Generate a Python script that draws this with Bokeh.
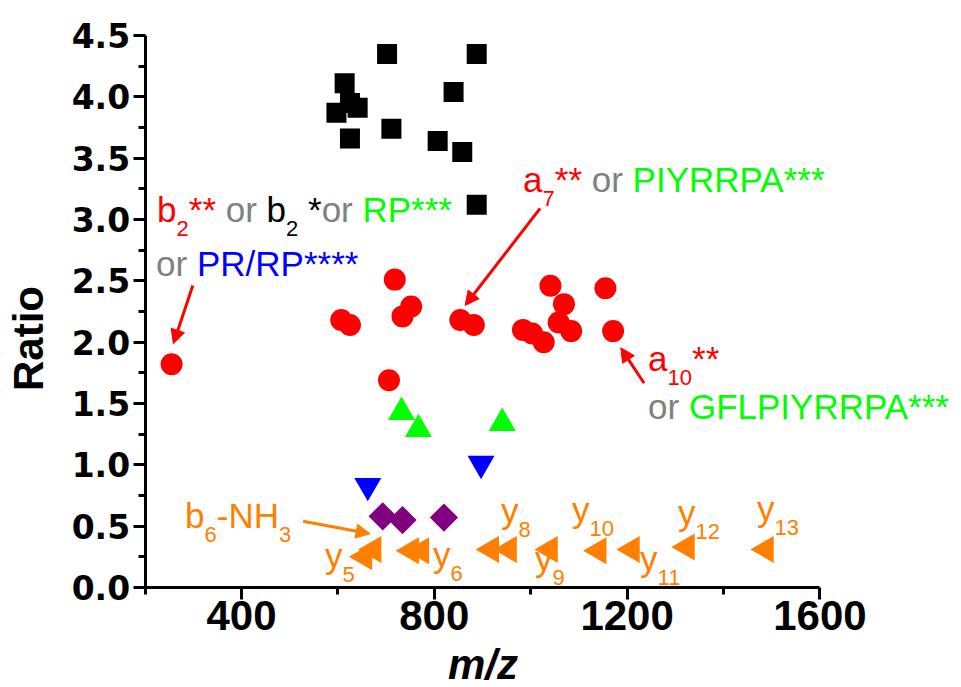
from bokeh.plotting import figure
from bokeh.models import Range1d, FixedTicker, Label, Arrow, NormalHead, PrintfTickFormatter
from bokeh.embed import file_html
from bokeh.resources import INLINE
import math

# ---------------- data (m/z, ratio) ----------------
sq_mz = [702, 888, 614, 840, 625, 641, 597, 711, 625, 807, 858, 888]
sq_ratio = [4.35, 4.35, 4.11, 4.04, 3.95, 3.91, 3.87, 3.74, 3.66, 3.64, 3.55, 3.12]

circ_mz = [255, 607, 625, 718, 752, 734, 706, 854, 882, 984, 1003, 1027, 1041, 1069, 1058, 1084, 1155, 1171]
circ_ratio = [1.82, 2.18, 2.14, 2.51, 2.29, 2.21, 1.69, 2.18, 2.14, 2.10, 2.07, 2.00, 2.46, 2.31, 2.16, 2.09, 2.44, 2.09]

up_mz = [732, 767, 941]
up_ratio = [1.43, 1.29, 1.34]

down_mz = [662, 897]
down_ratio = [0.83, 1.01]

dia_mz = [693, 734, 820]
dia_ratio = [0.58, 0.55, 0.57]

left_mz = [655, 674, 752, 773, 918, 955, 1040, 1141, 1210, 1324, 1488]
left_ratio = [0.25, 0.31, 0.30, 0.30, 0.31, 0.31, 0.31, 0.30, 0.31, 0.33, 0.31]

x_ticks = [400, 800, 1200, 1600]
x_minor = [200, 600, 1000, 1400]
y_ticks = [0.0, 0.5, 1.0, 1.5, 2.0, 2.5, 3.0, 3.5, 4.0, 4.5]
y_minor = [0.25, 0.75, 1.25, 1.75, 2.25, 2.75, 3.25, 3.75, 4.25]

# ---------------- layout ----------------
W, H = 961, 687
ORIGIN_X_PX, ORIGIN_Y_PX = 144.6, 587.0   # where (200, 0) sits on the page
PX_X = 0.482      # px per m/z unit
PX_Y = 122.67     # px per ratio unit
X_START = 200 - ORIGIN_X_PX / PX_X
X_END = X_START + W / PX_X
Y_START = -(H - ORIGIN_Y_PX) / PX_Y
Y_END = ORIGIN_Y_PX / PX_Y

RED, GRAY, GREEN, BLUE, BLACK = "#FF0000", "#808080", "#00FF00", "#0000FF", "#000000"
ORANGE, PURPLE = "#FF8000", "#800080"
FONT = "Liberation Sans"
MAIN_FS, SUB_FS = 35, 22
SUB_DROP_PX = 15
BASELINE_FIX = 0.35   # label placement correction, in font-size units

p = figure(width=W, height=H, output_backend="svg", toolbar_location=None,
           x_range=Range1d(X_START, X_END), y_range=Range1d(Y_START, Y_END),
           min_border=0, min_border_left=0, min_border_right=0,
           min_border_top=0, min_border_bottom=0)
p.grid.visible = False
p.outline_line_color = None
p.background_fill_color = "white"
p.border_fill_color = "white"

for ax in (p.xaxis, p.yaxis):
    ax.axis_line_width = 3
    ax.major_tick_line_width = 3
    ax.minor_tick_line_width = 3
    ax.major_tick_out = 12
    ax.major_tick_in = 0
    ax.minor_tick_out = 7
    ax.minor_tick_in = 0
    ax.major_label_text_font_style = "bold"
    ax.major_label_text_color = "black"

p.xaxis.fixed_location = 0
p.xaxis.bounds = (200, 1600)
p.xaxis.ticker = FixedTicker(ticks=x_ticks, minor_ticks=x_minor)
p.xaxis.major_label_text_font = FONT
p.xaxis.major_label_text_font_size = "42px"
p.xaxis.major_label_standoff = 1

p.yaxis.fixed_location = 200
p.yaxis.bounds = (0, 4.5)
p.yaxis.ticker = FixedTicker(ticks=y_ticks, minor_ticks=y_minor)
p.yaxis.formatter = PrintfTickFormatter(format="%.1f")
p.yaxis.major_label_text_font = "DejaVu Sans"
p.yaxis.major_label_text_font_size = "33px"
p.yaxis.major_label_standoff = 3

# ---------------- markers ----------------
p.scatter(left_mz, left_ratio, marker="triangle", angle=math.pi / 2, size=27,
          fill_color=ORANGE, line_color=None)
p.scatter(dia_mz, dia_ratio, marker="square", angle=math.pi / 4, size=20,
          fill_color=PURPLE, line_color=None)
p.scatter(down_mz, down_ratio, marker="inverted_triangle", size=27,
          fill_color=BLUE, line_color=None)
p.scatter(up_mz, up_ratio, marker="triangle", size=27,
          fill_color=GREEN, line_color=None)
p.scatter(circ_mz, circ_ratio, marker="circle", size=22,
          fill_color=RED, line_color=None)
p.scatter(sq_mz, sq_ratio, marker="square", size=20,
          fill_color=BLACK, line_color=None)

# ---------------- annotation text runs ----------------
ARIAL_W = {" ": 278, "*": 389, "-": 333, "/": 278, "A": 667, "F": 611, "G": 778,
           "H": 722, "I": 278, "L": 556, "N": 722, "P": 667, "R": 722, "Y": 667,
           "a": 556, "b": 556, "o": 556, "r": 333, "y": 500}


def text_width_px(s, fs):
    return sum(ARIAL_W.get(ch, 556) for ch in s) * fs / 1000.0


def runs(x, y, parts):
    """parts: list of (text, color, is_sub); x, y = start / baseline in data units."""
    cx = x
    for txt, col, sub in parts:
        fs = SUB_FS if sub else MAIN_FS
        lead = txt[:len(txt) - len(txt.lstrip(" "))]
        core = txt.strip(" ")
        trail = txt[len(lead) + len(core):]
        cx += text_width_px(lead, fs) / PX_X
        if core:
            dy_px = (SUB_DROP_PX if sub else 0) - BASELINE_FIX * fs
            p.add_layout(Label(x=cx, y=y - dy_px / PX_Y, text=core,
                               text_font=FONT, text_font_size=f"{fs}px", text_color=col,
                               text_align="left", text_baseline="alphabetic"))
        cx += text_width_px(core + trail, fs) / PX_X


runs(224.9, 2.984, [("b", RED, False), ("2", RED, True), ("**", RED, False),
                    (" or ", GRAY, False), ("b", BLACK, False), ("2", BLACK, True),
                    (" *", BLACK, False), ("or ", GRAY, False), ("RP***", GREEN, False)])
runs(222.8, 2.543, [("or ", GRAY, False), ("PR/RP****", BLUE, False)])
runs(984.2, 3.228, [("a", RED, False), ("7", RED, True), ("**", RED, False),
                    (" or ", GRAY, False), ("PIYRRPA***", GREEN, False)])
runs(1243.6, 1.769, [("a", RED, False), ("10", RED, True), ("**", RED, False)])
runs(1243.6, 1.378, [("or ", GRAY, False), ("GFLPIYRRPA***", GREEN, False)])
runs(283.0, 0.489, [("b", ORANGE, False), ("6", ORANGE, True), ("-NH", ORANGE, False),
                    ("3", ORANGE, True)])

y_labels = [("5", 573.4, 0.163), ("6", 797.5, 0.171), ("8", 938.6, 0.530),
            ("9", 1009.1, 0.139), ("10", 1085.9, 0.538), ("11", 1227.0, 0.139),
            ("12", 1305.8, 0.514), ("13", 1469.7, 0.546)]
for n, lx, ly in y_labels:
    runs(lx, ly, [("y", ORANGE, False), (n, ORANGE, True)])

# ---------------- arrows ----------------
arrows = [(RED, 299.0, 2.462, 258.7, 1.987),
          (RED, 1019.5, 3.090, 863.9, 2.299),
          (RED, 1235.3, 1.665, 1186.9, 1.954),
          (ORANGE, 527.8, 0.5405, 666.8, 0.4378)]
for col, xs, ys, xe, ye in arrows:
    p.add_layout(Arrow(end=NormalHead(size=14, fill_color=col, line_color=col),
                       x_start=xs, y_start=ys, x_end=xe, y_end=ye,
                       line_color=col, line_width=3))

# ---------------- axis titles ----------------
p.add_layout(Label(x=-41.9, y=2.03, text="Ratio", angle=math.pi / 2,
                   text_font=FONT, text_font_size="42px", text_font_style="bold",
                   text_align="center", text_baseline="middle", text_color="black"))
p.add_layout(Label(x=901.0, y=-0.625, text="m/z",
                   text_font=FONT, text_font_size="42px", text_font_style="bold italic",
                   text_align="center", text_baseline="middle", text_color="black"))

open("out.html", "w").write(file_html(p, INLINE))
